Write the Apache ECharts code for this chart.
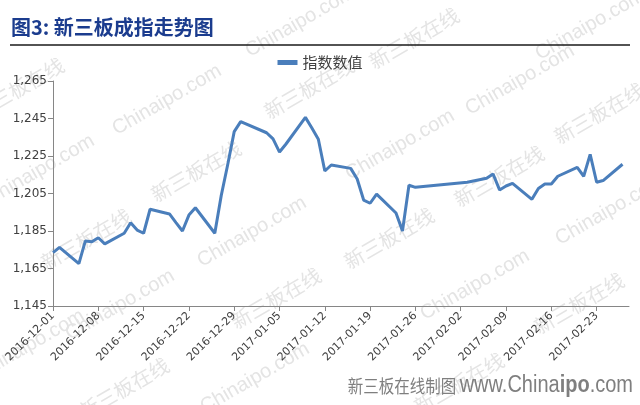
<!DOCTYPE html>
<html><head><meta charset="utf-8">
<script src="https://cdn.jsdelivr.net/npm/echarts@6.0.0/dist/echarts.min.js"></script>
<style>html,body{margin:0;padding:0;background:#fff}#c{width:640px;height:405px}</style>
</head><body><div id="c"></div>
<script>
const tradeDates = ['2016-12-01','2016-12-02','2016-12-05','2016-12-06','2016-12-07','2016-12-08','2016-12-09',
  '2016-12-12','2016-12-13','2016-12-14','2016-12-15','2016-12-16','2016-12-19','2016-12-20','2016-12-21',
  '2016-12-22','2016-12-23','2016-12-26','2016-12-27','2016-12-28','2016-12-29','2016-12-30',
  '2017-01-03','2017-01-04','2017-01-05','2017-01-06','2017-01-09','2017-01-10','2017-01-11','2017-01-12',
  '2017-01-13','2017-01-16','2017-01-17','2017-01-18','2017-01-19','2017-01-20','2017-01-23','2017-01-24',
  '2017-01-25','2017-01-26','2017-02-03','2017-02-06','2017-02-07','2017-02-08','2017-02-09','2017-02-10',
  '2017-02-13','2017-02-14','2017-02-15','2017-02-16','2017-02-17','2017-02-20','2017-02-21','2017-02-22',
  '2017-02-23','2017-02-24','2017-02-27'];
const indexValues = [1173.5,1176.3,1167.6,1179.7,1179.3,1181.4,1178.1,
  1183.8,1189.4,1185.5,1183.8,1196.6,1194.1,1189.5,1185.0,
  1193.5,1197.4,1183.8,1204.0,1220.5,1238.0,1243.3,
  1237.4,1234.1,1227.1,1231.4,1245.6,1239.9,1233.9,1217.0,
  1220.2,1218.4,1212.7,1201.5,1199.8,1204.7,1194.6,1185.0,
  1209.4,1208.3,1211.0,1213.1,1215.4,1206.9,1209.0,1210.4,
  1201.9,1207.7,1210.1,1210.1,1214.2,1218.9,1214.2,1225.9,
  1211.0,1211.9,1220.6];
const tickLabels = ['2016-12-01','2016-12-08','2016-12-15','2016-12-22','2016-12-29','2017-01-05',
  '2017-01-12','2017-01-19','2017-01-26','2017-02-02','2017-02-09','2017-02-16','2017-02-23'];
const axisEndDate = '2017-02-28';
const yMin = 1145, yMax = 1265, yStep = 20;
const seriesName = '指数数值';
const titleText = '图3: 新三板成指走势图';

function addDays(s, n) {
  const d = new Date(s + 'T00:00:00Z');
  d.setUTCDate(d.getUTCDate() + n);
  return d.toISOString().slice(0, 10);
}
const calendar = [];
for (let d = tickLabels[0]; d <= axisEndDate; d = addDays(d, 1)) calendar.push(d);
const valueByDate = {};
tradeDates.forEach((d, i) => { valueByDate[d] = indexValues[i]; });
const seriesData = calendar.map(d => (d in valueByDate ? valueByDate[d] : null));
const tickSet = new Set(tickLabels);

const wmColor = '#e4e4e4';
const wmList = [
  ['Chinaipo.com', 300, 22], ['Chinaipo.com', 167, 100], ['Chinaipo.com', 40, 170], ['Chinaipo.com', 252, 232],
  ['Chinaipo.com', 120, 305], ['Chinaipo.com', 400, 145], ['Chinaipo.com', 520, 80], ['Chinaipo.com', 610, 210],
  ['Chinaipo.com', 475, 285], ['Chinaipo.com', 255, 378], ['Chinaipo.com', 30, 345], ['Chinaipo.com', 590, 25],
  ['新三板在线', 310, 90], ['新三板在线', 197, 173], ['新三板在线', 87, 241], ['新三板在线', 277, 300],
  ['新三板在线', 600, 115], ['新三板在线', 500, 178], ['新三板在线', 390, 240], ['新三板在线', 580, 305],
  ['新三板在线', 20, 90], ['新三板在线', 125, 390], ['新三板在线', 415, 40], ['新三板在线', 460, 385]
];
const wmGraphics = wmList.map(([t, x, y]) => ({
  type: 'text', x: x, y: y, rotation: Math.PI / 6, z: 0, silent: true,
  style: { text: t, fill: wmColor, font: '20px "Liberation Sans", "Noto Sans CJK SC", sans-serif',
           align: 'center', verticalAlign: 'middle' }
}));

const chart = echarts.init(document.getElementById('c'), null, { renderer: 'canvas' });
chart.setOption({
  animation: false,
  backgroundColor: '#ffffff',
  title: {
    text: titleText, left: 6, top: 12,
    textStyle: { fontSize: 20, fontWeight: 'bold', color: '#1B3C8E', fontFamily: '"Noto Sans CJK SC", sans-serif' }
  },
  legend: {
    data: [seriesName], left: 'center', top: 50, icon: 'rect', itemWidth: 20, itemHeight: 5,
    textStyle: { fontSize: 15, color: '#404040', fontFamily: '"Noto Sans CJK SC", sans-serif' }
  },
  grid: { left: 53, right: 11, top: 81, bottom: 99, containLabel: false },
  xAxis: {
    type: 'category', data: calendar, boundaryGap: false,
    axisLine: { lineStyle: { color: '#868686', width: 1 } },
    axisTick: { interval: (i, v) => tickSet.has(v), length: 5, lineStyle: { color: '#868686' } },
    axisLabel: { interval: (i, v) => tickSet.has(v), rotate: 45, margin: 8, fontSize: 11, color: '#404040',
                 fontFamily: '"DejaVu Sans", sans-serif' },
    splitLine: { show: false }
  },
  yAxis: {
    type: 'value', min: yMin, max: yMax, interval: yStep,
    axisLine: { show: true, lineStyle: { color: '#868686', width: 1 } },
    axisTick: { show: true, length: 5, lineStyle: { color: '#868686' } },
    axisLabel: { margin: 6, fontSize: 12, color: '#404040', fontFamily: '"DejaVu Sans", sans-serif',
                 formatter: v => v.toLocaleString('en-US') },
    splitLine: { show: false }
  },
  graphic: wmGraphics.concat([
    { type: 'line', z: 5, shape: { x1: 10, y1: 45, x2: 630, y2: 45 }, style: { stroke: '#1a1a1a', lineWidth: 1.5 } },
    { type: 'text', z: 5, x: 633, y: 386, scaleY: 1.15,
      style: { text: '{a|新三板在线制图} {b|www.China}{c|ipo}{b|.com}', align: 'right', verticalAlign: 'middle',
        rich: {
          a: { fontSize: 15.5, fill: '#7f7f7f', fontFamily: '"Noto Sans CJK SC", sans-serif' },
          b: { fontSize: 20, fill: '#7f7f7f', fontFamily: '"Liberation Sans", sans-serif' },
          c: { fontSize: 20, fill: '#7f7f7f', fontWeight: 'bold', fontFamily: '"Liberation Sans", sans-serif' }
        } } }
  ]),
  series: [{
    name: seriesName, type: 'line', data: seriesData, connectNulls: true, showSymbol: false, z: 3,
    lineStyle: { color: '#4A7EBB', width: 3 }, itemStyle: { color: '#4A7EBB' }
  }]
});
</script>
</body></html>
